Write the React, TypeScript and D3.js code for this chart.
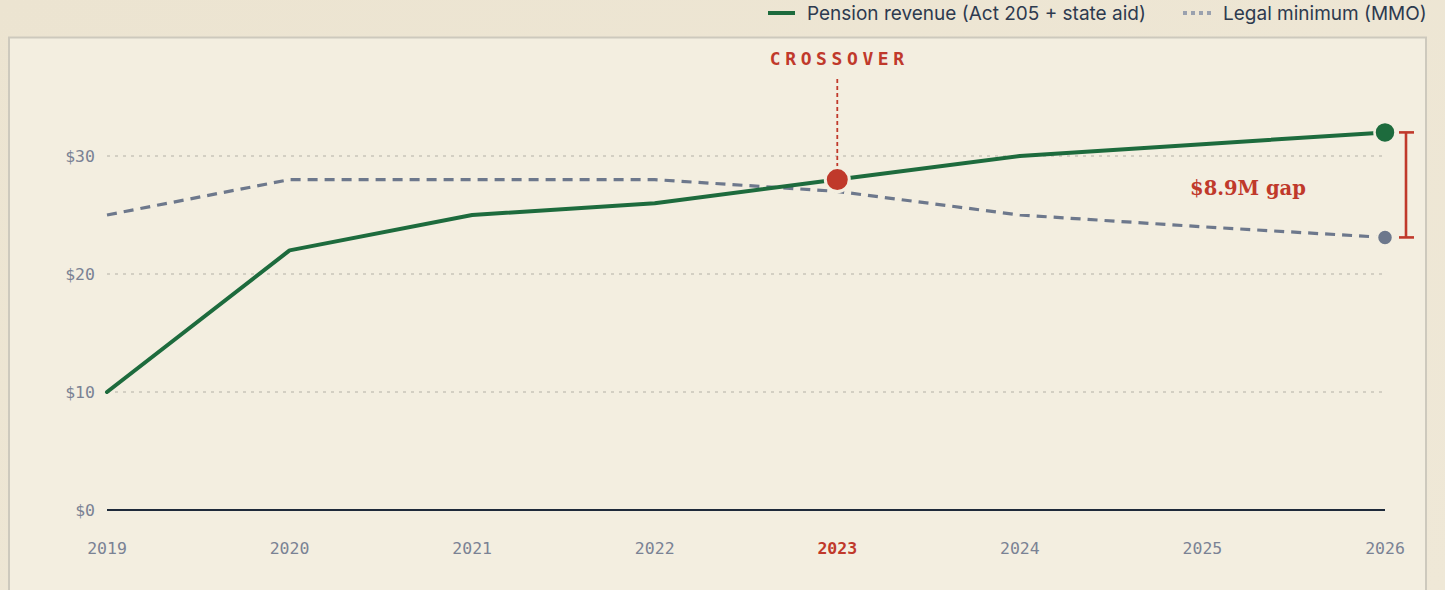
import React from "react";
import * as d3 from "d3";

const years = [2019, 2020, 2021, 2022, 2023, 2024, 2025, 2026];
const pensionRevenue = [10, 22, 25, 26, 28, 30, 31, 32.0];
const legalMinimum = [25, 28, 28, 28, 27, 25, 24, 23.1];
const yTicks = [0, 10, 20, 30];
const crossoverYear = 2023;
const gapLabel = "$8.9M gap";
const legendLabels = ["Pension revenue (Act 205 + state aid)", "Legal minimum (MMO)"];

const W = 1445;
const H = 590;

export default function App() {
  const x = d3.scaleLinear().domain([2019, 2026]).range([107, 1385]);
  const y = d3.scaleLinear().domain([0, 30]).range([510, 156]);

  const line = d3
    .line<[number, number]>()
    .x((d) => x(d[0]))
    .y((d) => y(d[1]));

  const greenPts = years.map((yr, i) => [yr, pensionRevenue[i]] as [number, number]);
  const greyPts = years.map((yr, i) => [yr, legalMinimum[i]] as [number, number]);

  const ci = years.indexOf(crossoverYear);
  const cx = x(crossoverYear);
  const cy = y(pensionRevenue[ci]);
  const last = years.length - 1;
  const gx = x(years[last]);
  const gTop = y(pensionRevenue[last]);
  const gBot = y(legalMinimum[last]);
  const bx = gx + 21;

  const mono = "'DejaVu Sans Mono', monospace";
  const sans = "Inter, 'Noto Sans', sans-serif";

  return (
    <svg
      width={W}
      height={H}
      style={{ position: "absolute", left: 0, top: 0, display: "block" }}
    >
      <defs>
        <linearGradient id="bg" x1="0" y1="0" x2="1" y2="1">
          <stop offset="0" stopColor="#ece4d1" />
          <stop offset="1" stopColor="#efe8d7" />
        </linearGradient>
      </defs>
      <rect x={0} y={0} width={W} height={H} fill="url(#bg)" />
      <rect x={9} y={37.5} width={1417} height={560} fill="#f3eee0" stroke="#cdc9bd" strokeWidth={2} />

      {/* legend */}
      <line x1={768} x2={795} y1={13} y2={13} stroke="#1d6b3d" strokeWidth={4} />
      <text x={807} y={19.5} fontFamily={sans} fontSize={19} fill="#2d3a4f">
        {legendLabels[0]}
      </text>
      <line x1={1183} x2={1211} y1={13} y2={13} stroke="#9aa1ae" strokeWidth={4} strokeDasharray="4,4" />
      <text x={1223} y={19.5} fontFamily={sans} fontSize={19} fill="#2d3a4f">
        {legendLabels[1]}
      </text>

      {/* grid */}
      {yTicks.map((t) =>
        t === 0 ? null : (
          <line
            key={t}
            x1={x(2019)}
            x2={x(2026)}
            y1={y(t)}
            y2={y(t)}
            stroke="#c9c5b9"
            strokeWidth={1.3}
            strokeDasharray="3,5"
          />
        )
      )}
      <line x1={x(2019)} x2={x(2026)} y1={y(0)} y2={y(0)} stroke="#1e2a3a" strokeWidth={2} />

      {/* y labels */}
      {yTicks.map((t) => (
        <text
          key={t}
          x={95}
          y={y(t) + 6}
          textAnchor="end"
          fontFamily={mono}
          fontSize={16.5}
          fill="#7a8294"
        >
          {`$${t}`}
        </text>
      ))}

      {/* x labels */}
      {years.map((yr) => (
        <text
          key={yr}
          x={x(yr)}
          y={554}
          textAnchor="middle"
          fontFamily={mono}
          fontSize={16.5}
          fontWeight={yr === crossoverYear ? "bold" : "normal"}
          fill={yr === crossoverYear ? "#c0392b" : "#7a8294"}
        >
          {yr}
        </text>
      ))}

      {/* lines */}
      <path d={line(greyPts) || ""} fill="none" stroke="#6d788c" strokeWidth={3.2} strokeDasharray="10,7" />
      <path d={line(greenPts) || ""} fill="none" stroke="#1d6b3d" strokeWidth={4} strokeLinejoin="round" strokeLinecap="round" />

      {/* crossover annotation */}
      <text
        x={cx + 2}
        y={65}
        textAnchor="middle"
        fontFamily={mono}
        fontSize={18}
        fontWeight="bold"
        letterSpacing={4.6}
        fill="#c0392b"
      >
        CROSSOVER
      </text>
      <line x1={cx} x2={cx} y1={79} y2={cy - 10} stroke="#c0392b" strokeWidth={1.8} strokeDasharray="4,3" />
      <circle cx={cx} cy={cy} r={12} fill="#c0392b" stroke="#f3eee0" strokeWidth={3} />

      {/* end dots */}
      <circle cx={gx} cy={gTop} r={10.5} fill="#1d6b3d" stroke="#f3eee0" strokeWidth={2.5} />
      <circle cx={gx} cy={gBot} r={8} fill="#6d788c" stroke="#f3eee0" strokeWidth={2.5} />

      {/* gap bracket */}
      <line x1={bx} x2={bx} y1={gTop} y2={gBot} stroke="#c0392b" strokeWidth={2.6} />
      <line x1={bx - 7} x2={bx + 8} y1={gTop} y2={gTop} stroke="#c0392b" strokeWidth={2.6} />
      <line x1={bx - 7} x2={bx + 8} y1={gBot} y2={gBot} stroke="#c0392b" strokeWidth={2.6} />
      <text
        x={1248}
        y={195}
        textAnchor="middle"
        fontFamily="'DejaVu Serif', 'Liberation Serif', serif"
        fontSize={19.5}
        fontWeight="bold"
        fill="#c0392b"
      >
        {gapLabel}
      </text>
    </svg>
  );
}
